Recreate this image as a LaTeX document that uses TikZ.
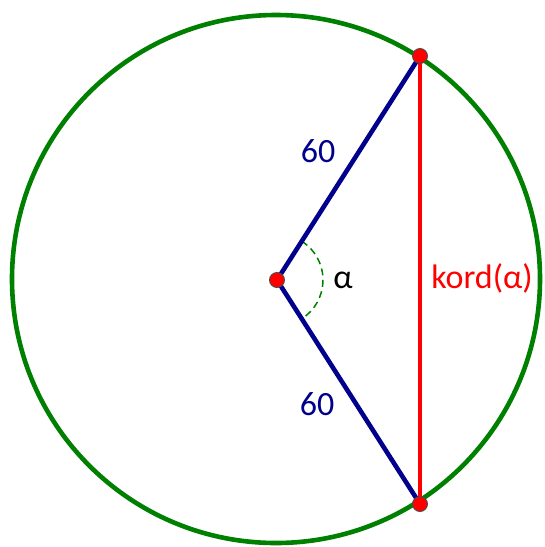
\documentclass[tikz,border=0pt]{standalone}
\usepackage{fontspec}
\setmainfont{Carlito}
\usetikzlibrary{calc}
\definecolor{cgreen}{RGB}{0,128,0}
\definecolor{cnavy}{RGB}{0,0,140}
\definecolor{cred}{RGB}{255,0,0}
\begin{document}
\begin{tikzpicture}[x=1pt,y=-1pt,
  dot/.style={circle,fill=cred,draw=black!70,line width=0.9pt,inner sep=0pt,minimum size=15pt},
  seg/.style={line width=4.6pt},
  lbl/.style={font=\fontsize{34}{38}\selectfont,inner sep=0pt}]
\useasboundingbox (0,0) rectangle (545,547);
\fill[white] (0,0) rectangle (545,547);
\coordinate (C) at (276,279);
\draw[cgreen,line width=4.6pt] (C) circle[radius=264];
\coordinate (O) at (277,280);
\coordinate (A) at (420,56);
\coordinate (B) at (420,504);
\draw[cgreen,line width=1.5pt,dash pattern=on 7pt off 4.5pt] ($(O)+(-57.5:46)$) arc[start angle=-57.5,end angle=57.5,radius=46];
\draw[seg,cnavy] (A) -- (O) -- (B);
\draw[seg,cred] (A) -- (B);
\node[dot] (dO) at (O) {};
\node[dot] (dA) at (A) {};
\node[dot] (dB) at (B) {};
\node[lbl,cnavy] (l1) at (318,151) {60};
\node[lbl,cnavy] (l2) at (317,404) {60};
\node[lbl,black] (la) at (343,280) {α};
\node[lbl,cred] (lk) at (482,278) {kord(α)};
\end{tikzpicture}
\end{document}
